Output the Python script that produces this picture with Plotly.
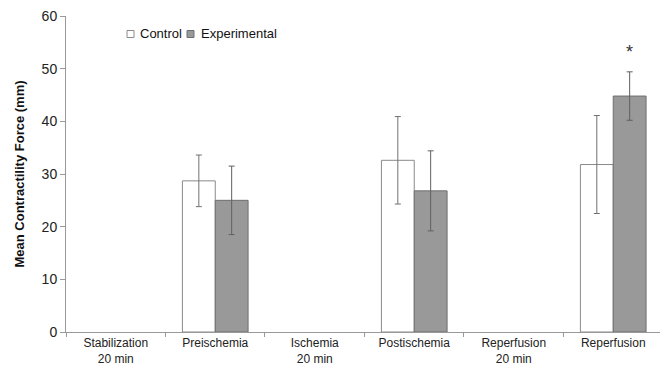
import plotly.graph_objects as go

categories = ["Stabilization<br>20 min", "Preischemia", "Ischemia<br>20 min",
              "Postischemia", "Reperfusion<br>20 min", "Reperfusion"]
control = [None, 28.7, None, 32.6, None, 31.8]
control_err = [None, 4.9, None, 8.3, None, 9.3]
experimental = [None, 25.0, None, 26.8, None, 44.8]
experimental_err = [None, 6.5, None, 7.6, None, 4.6]
y_ticks = [0, 10, 20, 30, 40, 50, 60]
series_names = ["Control", "Experimental"]

ctrl_fill, ctrl_line = "white", "#8a8a8a"
exp_fill, exp_line = "#999999", "#6e6e6e"

fig = go.Figure()
fig.add_trace(go.Bar(
    x=categories, y=control, name=series_names[0],
    marker=dict(color=ctrl_fill, line=dict(color=ctrl_line, width=1)),
    error_y=dict(type="data", array=control_err, color="#707070", thickness=1, width=3),
))
fig.add_trace(go.Bar(
    x=categories, y=experimental, name=series_names[1],
    marker=dict(color=exp_fill, line=dict(color=exp_line, width=1)),
    error_y=dict(type="data", array=experimental_err, color="#606060", thickness=1, width=3),
))

fig.add_annotation(x=categories[5], y=experimental[5] + experimental_err[5] + 1.4,
                   text="*", showarrow=False, xshift=16.5, yanchor="bottom",
                   font=dict(size=18, color="#333", family="Arial, Liberation Sans"))

# custom compact legend (paper coords)
W, H = 660 - 66, 370 - 16 - 38
def px(xp):
    return (xp - 66) / W
def py(yp):
    return 1 - (yp - 16) / H

legend_items = [(127, 134, 138, series_names[0], ctrl_fill, ctrl_line),
                (187, 194, 199, series_names[1], exp_fill, exp_line)]
for x0, x1, tx, name, fill, line in legend_items:
    fig.add_shape(type="rect", xref="paper", yref="paper",
                  x0=px(x0), x1=px(x1), y0=py(37.5), y1=py(30.5),
                  fillcolor=fill, line=dict(color=line, width=1))
    fig.add_annotation(xref="paper", yref="paper", x=px(tx), y=py(34), text=name,
                       showarrow=False, xanchor="left", yanchor="middle",
                       font=dict(size=13, color="#111"))

fig.update_layout(
    width=660, height=370,
    margin=dict(l=66, r=0, t=16, b=38),
    paper_bgcolor="white", plot_bgcolor="white",
    barmode="group", bargap=0.34, bargroupgap=0,
    font=dict(family="Arial, Liberation Sans, sans-serif", color="#222"),
    showlegend=False,
)
fig.update_xaxes(
    type="category", range=[-0.5, 5.47],
    showline=True, linecolor="#999", linewidth=1,
    ticks="outside", tickson="boundaries", ticklen=4, tickcolor="#999",
    tickfont=dict(size=12, color="#222"),
    showgrid=False, zeroline=False,
)
fig.update_yaxes(
    range=[0, 60], tickvals=y_ticks,
    showline=True, linecolor="#999", linewidth=1,
    ticks="outside", ticklen=5, tickcolor="#999",
    tickfont=dict(size=14, color="#222"),
    showgrid=False, zeroline=False,
    title=dict(text="<b>Mean Contractility Force (mm)</b>", font=dict(size=13, color="#111"), standoff=14),
)

fig.write_html("out.html")
